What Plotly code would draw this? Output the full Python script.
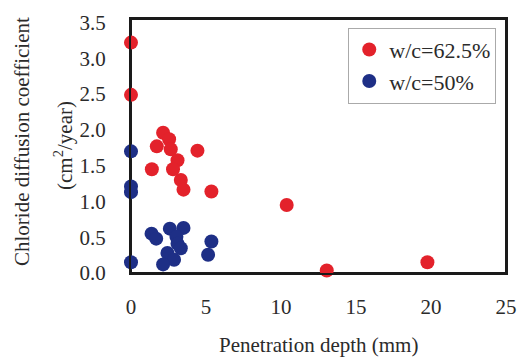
import plotly.graph_objects as go

# Penetration depth (mm) and chloride diffusion coefficient (cm2/year)
depth_625 = [0.0, 0.0, 2.14, 2.54, 1.72, 2.65, 4.43, 3.1, 1.39, 2.8, 3.32, 3.5, 5.36, 10.38, 13.05, 19.76]
coef_625 = [3.22, 2.49, 1.96, 1.87, 1.77, 1.73, 1.71, 1.575, 1.45, 1.45, 1.30, 1.165, 1.14, 0.95, 0.035, 0.15]

depth_50 = [0.0, 0.0, 0.0, 0.0, 1.37, 1.68, 2.59, 3.5, 3.03, 3.1, 3.32, 2.43, 2.87, 2.14, 5.36, 5.14]
coef_50 = [1.70, 1.21, 1.13, 0.15, 0.55, 0.48, 0.62, 0.63, 0.505, 0.41, 0.345, 0.28, 0.185, 0.12, 0.44, 0.255]

series_names = ["w/c=62.5%", "w/c=50%"]
colors = ["#e3222b", "#1e2f86"]

x_ticks = [0, 5, 10, 15, 20, 25]
y_ticks = [0.0, 0.5, 1.0, 1.5, 2.0, 2.5, 3.0, 3.5]
x_range = [0, 25]
y_range = [0, 3.55]

FONT = "Liberation Serif"
TEXT = "#2b2b2b"
FRAME = "#1a1a1a"

fig = go.Figure()

# box around the plotting area, traced along the axis limits
fig.add_trace(go.Scatter(
    x=[x_range[0], x_range[1], x_range[1], x_range[0], x_range[0]],
    y=[y_range[0], y_range[0], y_range[1], y_range[1], y_range[0]],
    mode="lines", line=dict(color=FRAME, width=2),
    showlegend=False, hoverinfo="skip", cliponaxis=False))

for xs, ys, name, col in [(depth_625, coef_625, series_names[0], colors[0]),
                          (depth_50, coef_50, series_names[1], colors[1])]:
    fig.add_trace(go.Scatter(x=xs, y=ys, mode="markers", name=name,
                             marker=dict(size=14, color=col),
                             cliponaxis=False))

# transparent outside ticks keep the labels away from the frame
fig.update_layout(
    width=528, height=359,
    margin=dict(l=131, r=16, t=11, b=86),
    paper_bgcolor="white", plot_bgcolor="white",
    font=dict(family=FONT, color=TEXT, size=21),
    legend=dict(x=0.974, y=0.966, xanchor="right", yanchor="top",
                bordercolor="#aaaaaa", borderwidth=1, bgcolor="white",
                font=dict(size=22, family=FONT, color=TEXT)),
    xaxis=dict(range=x_range, tickvals=x_ticks, ticktext=[str(v) for v in x_ticks],
               showgrid=False, zeroline=False, showline=True, mirror=True,
               linecolor=FRAME, linewidth=2,
               ticks="outside", ticklen=14, tickcolor="rgba(0,0,0,0)",
               tickfont=dict(size=21, family=FONT, color=TEXT)),
    yaxis=dict(range=y_range, tickvals=y_ticks, ticktext=[f"{v:.1f}" for v in y_ticks],
               showgrid=False, zeroline=False, showline=True, mirror=True,
               linecolor=FRAME, linewidth=2,
               ticks="outside", ticklen=19, tickcolor="rgba(0,0,0,0)",
               tickfont=dict(size=21, family=FONT, color=TEXT)),
)

# axis titles
fig.add_annotation(text="Penetration depth (mm)", xref="paper", yref="paper",
                   x=0.5, y=0, xanchor="center", yanchor="middle",
                   showarrow=False, yshift=-72,
                   font=dict(size=21, family=FONT, color=TEXT))
fig.add_annotation(text="Chloride diffusion coefficient", xref="paper", yref="paper",
                   x=0, y=0.5, xanchor="center", yanchor="middle",
                   textangle=-90, showarrow=False,
                   font=dict(size=21, family=FONT, color=TEXT),
                   xshift=-109, yshift=4)
fig.add_annotation(text="(cm<sup>2</sup>/year)", xref="paper", yref="paper",
                   x=0, y=0.5, xanchor="center", yanchor="middle",
                   textangle=-90, showarrow=False,
                   font=dict(size=21, family=FONT, color=TEXT),
                   xshift=-68, yshift=0)

fig.write_html("out.html")
